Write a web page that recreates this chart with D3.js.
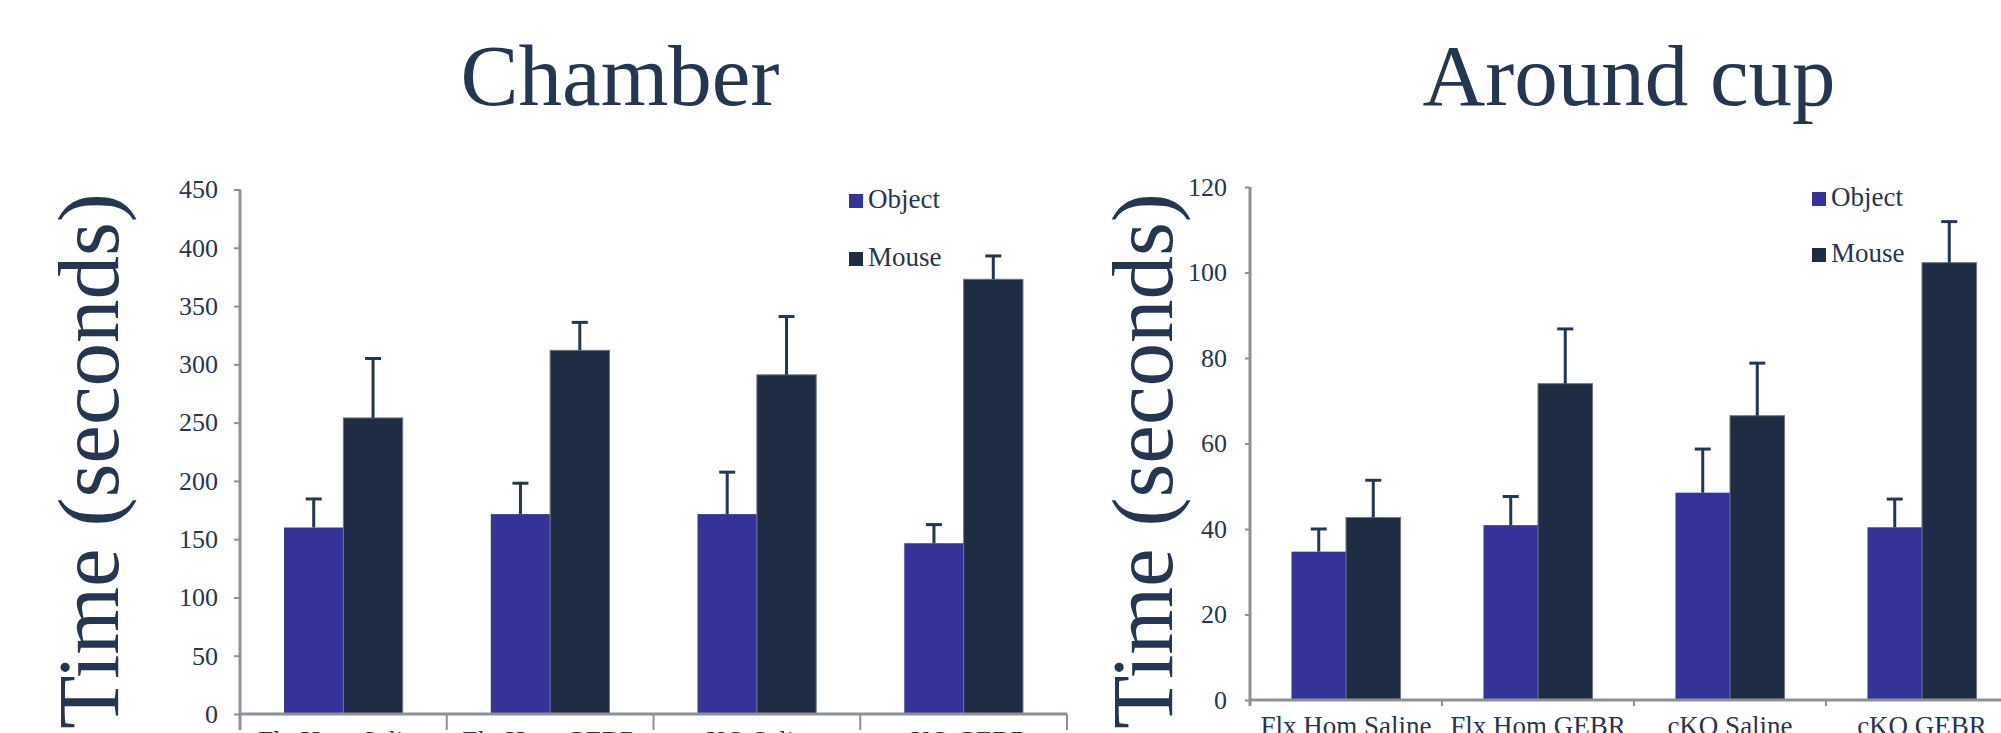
<!DOCTYPE html>
<html>
<head>
<meta charset="utf-8">
<script src="https://cdn.jsdelivr.net/npm/d3@7"></script>
<style>
	body { margin: 0; background: #fff; overflow: hidden; }
	svg { display: block; }
	text { font-family: 'Palatino Linotype', 'Book Antiqua', Palatino, 'Liberation Serif', serif; fill: #243650; }
</style>
</head>
<body>
<svg id="svg" width="2001" height="733"></svg>
<script>
// data
const groups = ['Flx Hom Saline', 'Flx Hom GEBR', 'cKO Saline', 'cKO GEBR'];
const series = ['Object', 'Mouse'];

const chamberObject = [160, 171.5, 171.5, 146.5];
const chamberObjectErr = [24.5, 26.5, 36, 16];
const chamberMouse = [254, 312, 291, 373];
const chamberMouseErr = [51, 24, 50, 20];
const chamberTicks = [0, 50, 100, 150, 200, 250, 300, 350, 400, 450];

const cupObject = [34.7, 40.9, 48.5, 40.4];
const cupObjectErr = [5.3, 6.7, 10.2, 6.6];
const cupMouse = [42.7, 74, 66.5, 102.3];
const cupMouseErr = [8.7, 12.8, 12.3, 9.6];
const cupTicks = [0, 20, 40, 60, 80, 100, 120];

const colors = {Object: '#35339a', Mouse: '#1f2d44'};
const axisGray = '#8d9096';

const svg = d3.select('#svg');

let buildRows = (obj, objErr, mouse, mouseErr) => {
	return groups.map((g, i) => ({
		group: g,
		bars: [
			{key: 'Object', value: obj[i], err: objErr[i]},
			{key: 'Mouse', value: mouse[i], err: mouseErr[i]}
		]
	}));
};

function drawChart(opt){
	const rows = buildRows(opt.obj, opt.objErr, opt.mouse, opt.mouseErr);

	const x = d3.scaleBand().domain(groups).range([opt.x0, opt.x1]).padding(0);
	const gap = x.step() * opt.gapRatio;
	const xs = d3.scaleBand().domain(series).range([gap, x.step() - gap]).padding(0);
	const y = d3.scaleLinear().domain([0, opt.max]).range([opt.zero, opt.top]);

	const g = svg.append('g');

	// 1: bars
	const grp = g.selectAll('.grp').data(rows).enter()
		.append('g')
		.attr('transform', d => `translate(${x(d.group)},0)`);

	grp.selectAll('rect').data(d => d.bars).enter()
		.append('rect')
		.attr('x', d => xs(d.key))
		.attr('width', xs.bandwidth())
		.attr('y', d => y(d.value))
		.attr('height', d => y(0) - y(d.value))
		.attr('fill', d => colors[d.key])
		.attr('stroke', d => d.key === 'Mouse' ? '#6f7586' : 'none')
		.attr('stroke-width', 1);

	// 2: error bars (upper only)
	const eb = grp.selectAll('.err').data(d => d.bars).enter()
		.append('g')
		.attr('stroke', '#243650')
		.attr('stroke-width', 3);
	eb.append('line')
		.attr('x1', d => xs(d.key) + xs.bandwidth() / 2)
		.attr('x2', d => xs(d.key) + xs.bandwidth() / 2)
		.attr('y1', d => y(d.value))
		.attr('y2', d => y(d.value + d.err));
	eb.append('line')
		.attr('x1', d => xs(d.key) + xs.bandwidth() / 2 - 8)
		.attr('x2', d => xs(d.key) + xs.bandwidth() / 2 + 8)
		.attr('y1', d => y(d.value + d.err))
		.attr('y2', d => y(d.value + d.err));

	// 3: axes
	const yAxis = g.append('g')
		.attr('transform', `translate(${opt.x0},0)`)
		.call(d3.axisLeft(y).tickValues(opt.ticks).tickSize(opt.yTick).tickSizeOuter(0).tickPadding(opt.labelPad));
	yAxis.select('.domain').attr('stroke', axisGray).attr('stroke-width', 3)
		.attr('d', `M0,${opt.top}V${opt.zero + opt.xTick}`);
	yAxis.selectAll('.tick line').attr('stroke', axisGray).attr('stroke-width', 2);
	yAxis.selectAll('.tick text')
		.attr('font-size', 26)
		.attr('fill', '#243650')
		.style('font-family', null);

	const xAxis = g.append('g')
		.attr('transform', `translate(0,${opt.zero})`)
		.call(d3.axisBottom(x).tickSize(0).tickPadding(opt.catPad));
	xAxis.select('.domain').attr('stroke', axisGray).attr('stroke-width', 3)
		.attr('d', `M${opt.x0},0H${Math.min(opt.x1, 2001)}`);
	xAxis.selectAll('.tick text')
		.attr('font-size', 27)
		.attr('dy', 0)
		.attr('fill', '#243650')
		.style('font-family', null);

	// category separators
	g.selectAll('.sep').data(groups.slice(1).concat(['end'])).enter()
		.append('line')
		.attr('x1', (d, i) => opt.x0 + x.step() * (i + 1))
		.attr('x2', (d, i) => opt.x0 + x.step() * (i + 1))
		.attr('y1', opt.zero)
		.attr('y2', opt.zero + opt.xTick)
		.attr('stroke', axisGray)
		.attr('stroke-width', 2);

	// 4: titles
	g.append('text')
		.attr('x', opt.titleX)
		.attr('y', 105)
		.attr('text-anchor', 'middle')
		.attr('font-size', 87)
		.text(opt.title);

	g.append('text')
		.attr('transform', `translate(${opt.yTitleX},461) rotate(-90)`)
		.attr('text-anchor', 'middle')
		.attr('font-size', 87)
		.text('Time (seconds)');

	// 5: legend
	const leg = g.selectAll('.leg').data(series).enter()
		.append('g')
		.attr('transform', (d, i) => `translate(${opt.legX},${opt.legY + i * opt.legStep})`);
	leg.append('rect')
		.attr('x', 0)
		.attr('y', -14)
		.attr('width', 14)
		.attr('height', 14)
		.attr('fill', d => colors[d]);
	leg.append('text')
		.attr('x', 19)
		.attr('y', 0)
		.attr('font-size', 27)
		.text(d => d);
}

drawChart({
	title: 'Chamber', titleX: 620, yTitleX: 118,
	obj: chamberObject, objErr: chamberObjectErr, mouse: chamberMouse, mouseErr: chamberMouseErr,
	ticks: chamberTicks, max: 450,
	x0: 240, x1: 1067, zero: 714, top: 189.5, gapRatio: 0.213,
	yTick: 6, xTick: 16, labelPad: 16, catPad: 36,
	legX: 849, legY: 208, legStep: 58
});

drawChart({
	title: 'Around cup', titleX: 1629, yTitleX: 1172,
	obj: cupObject, objErr: cupObjectErr, mouse: cupMouse, mouseErr: cupMouseErr,
	ticks: cupTicks, max: 120,
	x0: 1250, x1: 2018, zero: 700, top: 187, gapRatio: 0.216,
	yTick: 5, xTick: 6, labelPad: 18, catPad: 35,
	legX: 1812, legY: 206, legStep: 56
});
</script>
</body>
</html>
